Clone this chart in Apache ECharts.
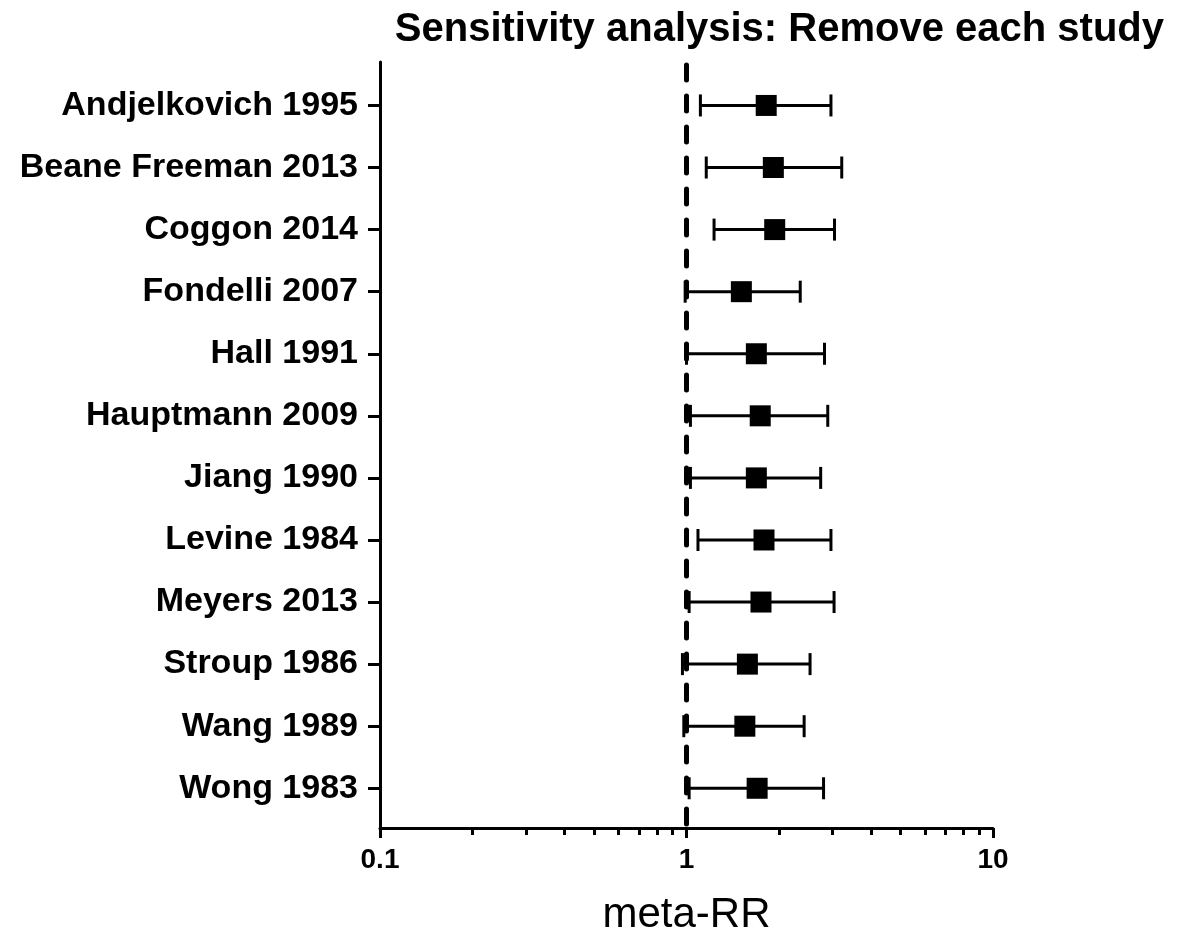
<!DOCTYPE html>
<html>
<head>
<meta charset="utf-8">
<script src="https://cdn.jsdelivr.net/npm/echarts@6/dist/echarts.min.js"></script>
<style>
  html, body { margin: 0; padding: 0; background: #fff; }
  #chart { width: 1181px; height: 938px; }
</style>
</head>
<body>
<div id="chart"></div>
<script>
const studies = [
  'Andjelkovich 1995', 'Beane Freeman 2013', 'Coggon 2014', 'Fondelli 2007',
  'Hall 1991', 'Hauptmann 2009', 'Jiang 1990', 'Levine 1984',
  'Meyers 2013', 'Stroup 1986', 'Wang 1989', 'Wong 1983'
]
const metaRR = [1.82, 1.92, 1.94, 1.51, 1.69, 1.74, 1.69, 1.79, 1.75, 1.58, 1.55, 1.70]
const lower  = [1.11, 1.16, 1.23, 0.99, 1.00, 1.03, 1.03, 1.09, 1.02, 0.97, 0.98, 1.02]
const upper  = [2.96, 3.21, 3.04, 2.35, 2.82, 2.89, 2.74, 2.96, 3.03, 2.53, 2.42, 2.80]
const majorTicks = [0.1, 1, 10]
const minorTicks = [0.2, 0.3, 0.4, 0.5, 0.6, 0.7, 0.8, 0.9, 2, 3, 4, 5, 6, 7, 8, 9]
// null-effect line at RR = 1, drawn a little past the axis like the original
const refLine = [[1, 0.35, 12.83]]

const rows = studies.map((s, i) => i + 1)
const font = 'Liberation Sans, Arial, sans-serif'

const chart = echarts.init(document.getElementById('chart'))

const option = {
  animation: false,
  backgroundColor: '#fff',
  textStyle: { fontFamily: font },
  title: {
    text: 'Sensitivity analysis: Remove each study',
    right: 12,
    top: 5,
    textStyle: { fontFamily: font, fontSize: 40, fontWeight: 'bold', color: '#000' }
  },
  grid: { left: 380, right: 188, top: 62, bottom: 110, outerBoundsMode: 'none' },
  xAxis: [
    {
      type: 'log',
      logBase: 10,
      min: 0.1,
      max: 10,
      name: 'meta-RR',
      nameLocation: 'middle',
      nameGap: 66,
      nameTextStyle: { fontFamily: font, fontSize: 42, color: '#000' },
      axisLine: { lineStyle: { color: '#000', width: 3 } },
      axisTick: { length: 10, lineStyle: { color: '#000', width: 3 }, customValues: majorTicks },
      axisLabel: {
        customValues: majorTicks,
        margin: 18,
        fontFamily: font, fontSize: 28, fontWeight: 'bold', color: '#000',
        formatter: v => String(v)
      },
      splitLine: { show: false }
    },
    {
      type: 'log',
      logBase: 10,
      min: 0.1,
      max: 10,
      position: 'bottom',
      axisLine: { show: false },
      axisTick: { length: 7, lineStyle: { color: '#000', width: 3 }, customValues: minorTicks },
      axisLabel: { show: false },
      splitLine: { show: false }
    }
  ],
  yAxis: {
    type: 'value',
    inverse: true,
    min: 0.3,
    max: 12.64,
    axisLine: { show: true, lineStyle: { color: '#000', width: 3 } },
    axisTick: { show: true, length: 12, lineStyle: { color: '#000', width: 3 }, customValues: rows },
    axisLabel: {
      customValues: rows,
      margin: 22,
      fontFamily: font, fontSize: 34, fontWeight: 'bold', color: '#000',
      formatter: v => studies[Math.round(v) - 1] || ''
    },
    splitLine: { show: false }
  },
  series: [
    {
      // dashed reference line
      type: 'custom',
      xAxisIndex: 0,
      clip: false,
      silent: true,
      data: refLine,
      renderItem: (params, api) => {
        const top = api.coord([api.value(0), api.value(1)])
        const bottom = api.coord([api.value(0), api.value(2)])
        return {
          type: 'line',
          shape: { x1: top[0], y1: top[1], x2: bottom[0], y2: bottom[1] },
          style: { stroke: '#000', lineWidth: 5, lineDash: [15, 16], lineCap: 'round' }
        }
      },
      z: 5
    },
    {
      // confidence intervals with end caps
      type: 'custom',
      xAxisIndex: 0,
      data: rows.map((r, i) => [lower[i], upper[i], r]),
      renderItem: (params, api) => {
        const lo = api.coord([api.value(0), api.value(2)])
        const hi = api.coord([api.value(1), api.value(2)])
        const h = 11
        const style = { stroke: '#000', lineWidth: 3 }
        return {
          type: 'group',
          children: [
            { type: 'line', shape: { x1: lo[0], y1: lo[1], x2: hi[0], y2: hi[1] }, style },
            { type: 'line', shape: { x1: lo[0], y1: lo[1] - h, x2: lo[0], y2: lo[1] + h }, style },
            { type: 'line', shape: { x1: hi[0], y1: hi[1] - h, x2: hi[0], y2: hi[1] + h }, style }
          ]
        }
      },
      z: 3
    },
    {
      type: 'scatter',
      xAxisIndex: 0,
      data: rows.map((r, i) => [metaRR[i], r]),
      symbol: 'rect',
      symbolSize: 21,
      itemStyle: { color: '#000', opacity: 1 },
      z: 4
    }
  ]
}

chart.setOption(option)
</script>
</body>
</html>
